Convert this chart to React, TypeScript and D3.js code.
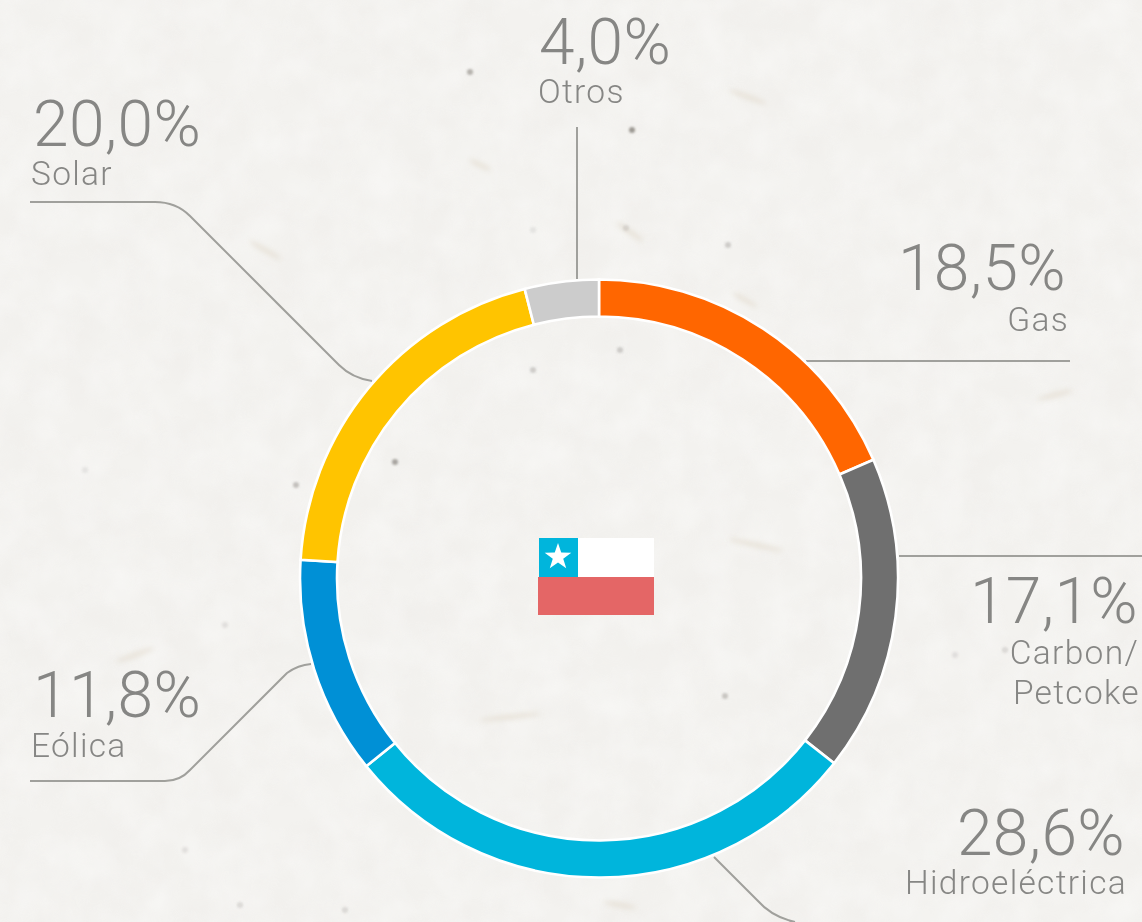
import React from "react";
import * as d3 from "d3";

const categories = ["Gas", "Carbon/Petcoke", "Hidroeléctrica", "Eólica", "Solar", "Otros"];
const shares = [18.5, 17.1, 28.6, 11.8, 20.0, 4.0];
const colours = ["#ff6600", "#6f6f6f", "#00b5dc", "#0090d6", "#ffc400", "#cccccc"];
const shareLabels = ["18,5%", "17,1%", "28,6%", "11,8%", "20,0%", "4,0%"];
const speckX = [470, 632, 728, 533, 395, 296, 725, 620, 626, 533, 860, 240, 185, 1005, 955, 225, 345, 85];
const speckY = [72, 130, 245, 370, 462, 485, 696, 350, 228, 230, 440, 905, 850, 650, 655, 625, 910, 470];
const speckDark = [0.5, 0.7, 0.3, 0.3, 0.6, 0.4, 0.35, 0.3, 0.2, 0.12, 0.2, 0.2, 0.15, 0.2, 0.15, 0.15, 0.2, 0.12];
const streakX = [748, 756, 510, 745, 630, 1055, 480, 135, 265, 620];
const streakY = [97, 545, 717, 300, 232, 395, 165, 655, 250, 905];
const streakLen = [20, 28, 30, 14, 16, 18, 12, 20, 18, 16];
const streakTilt = [20, 12, -6, 30, 35, -15, 25, -20, 30, 10];

const W = 1142, H = 922;
const cx = 599, cy = 578.5, outerR = 299, innerR = 262;
const lineColour = "#a0a09c";
const textColour = "#868684";

const pie = d3.pie<number>().sort(null).value(d => d);
const arc = d3.arc<d3.PieArcDatum<number>>().innerRadius(innerR).outerRadius(outerR);

const leaders = [
  "M806,361 L1070,361",
  "M899,556 L1142,556",
  "M714,857 L757,900 Q772,917 795,922",
  "M311,664 Q298,665 287,673 L190,770 Q180,781 165,781 L30,781",
  "M372,381 Q352,378 339,365 L190,216 Q176,202 155,202 L30,202",
  "M577,279 L577,127",
];

const valueAnchor = [
  { x: 1066, y: 290, a: "end" }, { x: 1138, y: 623, a: "end" }, { x: 1125, y: 855, a: "end" },
  { x: 33, y: 717, a: "start" }, { x: 33, y: 145.5, a: "start" }, { x: 539, y: 63.5, a: "start" },
];
const nameAnchor = [
  { x: 1069, y: 331, a: "end" }, { x: 1139, y: 664, a: "end" }, { x: 1127, y: 894, a: "end" },
  { x: 31, y: 757, a: "start" }, { x: 31, y: 185, a: "start" }, { x: 538, y: 103, a: "start" },
];

const star = d3.range(10).map(i => {
  const r = i % 2 === 0 ? 14 : 5.5;
  const t = (i * Math.PI) / 5;
  return `${(558 + r * Math.sin(t)).toFixed(2)},${(557 - r * Math.cos(t)).toFixed(2)}`;
}).join(" ");

export default function App() {
  return (
    <svg width={W} height={H} viewBox={`0 0 ${W} ${H}`}
      style={{ position: "absolute", left: 0, top: 0, display: "block" }}
      fontFamily="Roboto, 'DejaVu Sans', sans-serif">
      <defs>
        <filter id="paper" x="0" y="0" width="100%" height="100%">
          <feTurbulence type="fractalNoise" baseFrequency="0.02 0.03" numOctaves={3} seed={4} />
          <feColorMatrix type="matrix" values="0 0 0 0 0.72  0 0 0 0 0.66  0 0 0 0 0.64  0.9 0 0 0 -0.3" />
        </filter>
        <filter id="paperLight" x="0" y="0" width="100%" height="100%">
          <feTurbulence type="fractalNoise" baseFrequency="0.03 0.025" numOctaves={3} seed={11} />
          <feColorMatrix type="matrix" values="0 0 0 0 1  0 0 0 0 1  0 0 0 0 1  1.2 0 0 0 -0.4" />
        </filter>
        <filter id="soft"><feGaussianBlur stdDeviation="1.3" /></filter>
        <filter id="softer"><feGaussianBlur stdDeviation="2.6" /></filter>
      </defs>
      <rect width={W} height={H} fill="#f3f2ef" />
      <rect width={W} height={H} filter="url(#paper)" opacity={0.16} />
      <rect width={W} height={H} filter="url(#paperLight)" opacity={0.45} />
      <g filter="url(#softer)">
        {streakX.map((x, i) => (
          <ellipse key={i} cx={x} cy={streakY[i]} rx={streakLen[i]} ry={2.4} fill="#e2dccf" opacity={0.7}
            transform={`rotate(${streakTilt[i]} ${x} ${streakY[i]})`} />
        ))}
      </g>
      <g filter="url(#soft)">
        {speckX.map((x, i) => (
          <circle key={i} cx={x} cy={speckY[i]} r={3} fill="#77736c" opacity={speckDark[i]} />
        ))}
      </g>

      <g fill="none" stroke={lineColour} strokeWidth={2}>
        {leaders.map((d, i) => <path key={i} d={d} />)}
      </g>

      <g transform={`translate(${cx},${cy})`}>
        {pie(shares).map((s, i) => (
          <path key={categories[i]} d={arc(s) ?? ""} fill={colours[i]} stroke="#ffffff" strokeWidth={2.6} />
        ))}
      </g>

      <rect x={539} y={538} width={115} height={39} fill="#ffffff" />
      <rect x={539} y={538} width={39} height={39} fill="#00b5dc" />
      <rect x={538} y={577} width={116} height={38} fill="#e46666" />
      <polygon points={star} fill="#ffffff" />

      <g fill={textColour} fontWeight={300}>
        {shareLabels.map((t, i) => (
          <text key={t} x={valueAnchor[i].x} y={valueAnchor[i].y} textAnchor={valueAnchor[i].a as any}
            fontSize={64} letterSpacing={0.4}>{t}</text>
        ))}
        {categories.map((c, i) => {
          const n = nameAnchor[i];
          if (c.includes("/")) {
            const [a, b] = c.split("/");
            return (
              <text key={c} textAnchor={n.a as any} fontSize={33.5} letterSpacing={1.3}>
                <tspan x={n.x} y={n.y}>{a}/</tspan>
                <tspan x={n.x + 1} y={n.y + 39.5}>{b}</tspan>
              </text>
            );
          }
          return <text key={c} x={n.x} y={n.y} textAnchor={n.a as any} fontSize={33.5} letterSpacing={1.3}>{c}</text>;
        })}
      </g>
    </svg>
  );
}
